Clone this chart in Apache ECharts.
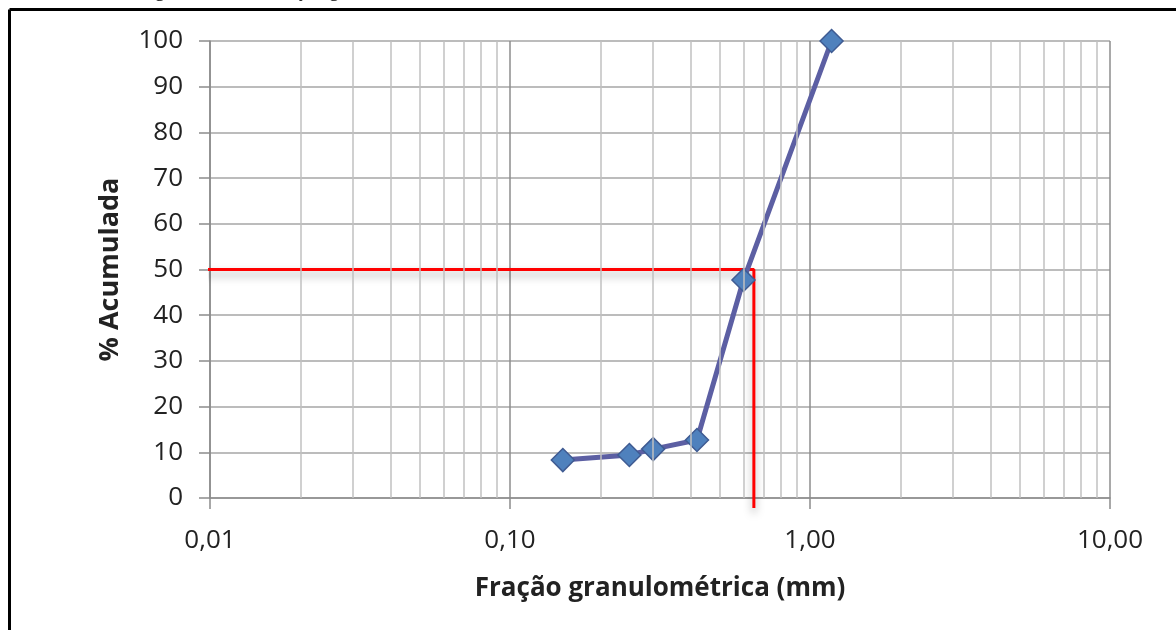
<!DOCTYPE html>
<html>
<head>
<meta charset="utf-8">
<script src="https://cdn.jsdelivr.net/npm/echarts@6/dist/echarts.min.js"></script>
<style>
  html, body { margin: 0; padding: 0; background: #fff; }
  #chart { width: 1176px; height: 630px; }
</style>
</head>
<body>
<div id="chart"></div>
<script>
// dados da curva granulométrica
const sieveSizes = [0.15, 0.25, 0.30, 0.42, 0.60, 1.18];   // abertura (mm)
const cumulative = [8.3, 9.4, 10.7, 12.7, 47.7, 100];      // % acumulada
// linha do D50 (vermelha)
const d50X = [0.0095, 0.65, 0.65];
const d50Y = [50, 50, -2.2];
const yTicks = [0, 10, 20, 30, 40, 50, 60, 70, 80, 90, 100];
const decades = [0.01, 0.1, 1, 10];

// linhas de grade secundárias 2..9 em cada década
const minorGrid = [];
for (let d = 0; d < decades.length - 1; d++) {
  for (let k = 2; k <= 9; k++) minorGrid.push({ xAxis: +(decades[d] * k).toPrecision(3) });
}

const chart = echarts.init(document.getElementById('chart'), null, { renderer: 'canvas' });

const font = '"Open Sans", "Noto Sans", sans-serif';

const option = {
  backgroundColor: '#ffffff',
  animation: false,
  textStyle: { fontFamily: font },
  grid: { left: 210, right: 66, top: 41, bottom: 132, containLabel: false },
  xAxis: {
    type: 'log',
    logBase: 10,
    min: 0.01,
    max: 10,
    name: 'Fração granulométrica (mm)',
    nameLocation: 'middle',
    nameGap: 78,
    nameTextStyle: { fontFamily: font, fontSize: 26, fontWeight: 'bold', color: '#222' },
    axisLine: { show: true, lineStyle: { color: '#8c8c8c', width: 1.5 } },
    axisTick: { show: true, inside: false, length: 11, lineStyle: { color: '#8c8c8c', width: 1.5 } },
    axisLabel: {
      margin: 30, fontSize: 26, color: '#222', fontFamily: font,
      formatter: v => Number(v).toFixed(2).replace('.', ',')
    },
    splitLine: { show: true, lineStyle: { color: '#8c8c8c', width: 1.5 } }
  },
  yAxis: {
    type: 'value',
    min: 0,
    max: 100,
    interval: 10,
    name: '% Acumulada',
    nameLocation: 'middle',
    nameGap: 86,
    nameRotate: 90,
    nameTextStyle: { fontFamily: font, fontSize: 27, fontWeight: 'bold', color: '#222' },
    axisLine: { show: true, lineStyle: { color: '#8c8c8c', width: 1.5 } },
    axisTick: { show: true, inside: false, length: 11, lineStyle: { color: '#8c8c8c', width: 1.5 } },
    axisLabel: { margin: 27, fontSize: 26, color: '#222', fontFamily: font },
    splitLine: { show: true, lineStyle: { color: '#a6a6a6', width: 1.5 } }
  },
  graphic: [
    {
      type: 'text', left: 138, top: -19, silent: true,
      style: { text: 'Figura 1 – Distribuição granulométrica', font: '20px "Liberation Serif", serif', fill: '#000' }
    },
    { type: 'line', silent: true, shape: { x1: 9.5, y1: 9.5, x2: 1176, y2: 9.5 }, style: { stroke: '#000', lineWidth: 3 } },
    { type: 'line', silent: true, shape: { x1: 9.5, y1: 9.5, x2: 9.5, y2: 630 }, style: { stroke: '#000', lineWidth: 3 } }
  ],
  series: [
    {
      // grade secundária
      type: 'line',
      data: [],
      silent: true,
      markLine: {
        silent: true,
        symbol: ['none', 'none'],
        label: { show: false },
        lineStyle: { type: 'solid', color: '#c0c0c0', width: 1.5 },
        data: minorGrid,
        animation: false
      },
      z: 1
    },
    {
      name: 'D50',
      type: 'line',
      data: d50X.map((x, i) => [x, d50Y[i]]),
      symbol: 'none',
      clip: false,
      lineStyle: {
        color: '#ff0000', width: 3,
        shadowColor: 'rgba(0,0,0,0.35)', shadowBlur: 8, shadowOffsetY: 5
      },
      z: 2
    },
    {
      name: '% Acumulada',
      type: 'line',
      data: sieveSizes.map((x, i) => [x, cumulative[i]]),
      symbol: 'diamond',
      symbolSize: 23,
      clip: false,
      lineStyle: { color: '#5c5fa3', width: 5 },
      itemStyle: { color: '#4f81bd', borderColor: '#3f5b92', borderWidth: 1.5 },
      z: 3
    }
  ]
};

chart.setOption(option);
</script>
</body>
</html>
